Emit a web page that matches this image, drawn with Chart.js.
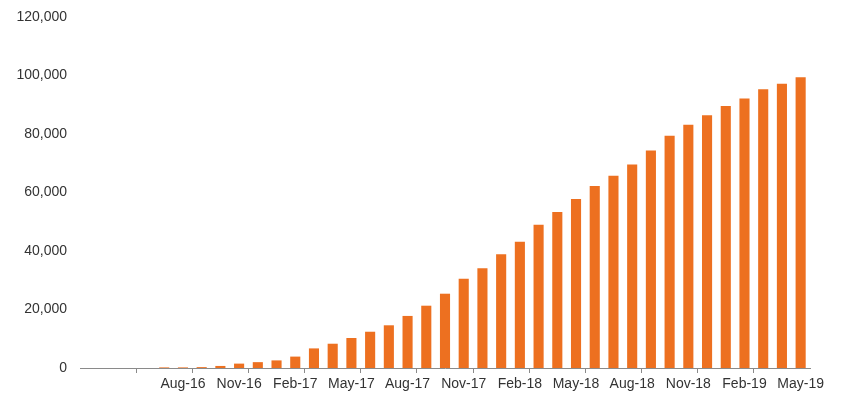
<!DOCTYPE html>
<html>
<head>
<meta charset="utf-8">
<script src="https://cdn.jsdelivr.net/npm/chart.js@4/dist/chart.umd.min.js"></script>
<style>
  html, body { margin: 0; padding: 0; background: #fff; }
  #wrap { width: 841px; height: 393px; }
</style>
</head>
<body>
<div id="wrap"><canvas id="bars"></canvas></div>
<script>
// monthly cumulative totals, Mar-16 to May-19
const months = [
  "Mar-16", "Apr-16", "May-16", "Jun-16", "Jul-16", "Aug-16", "Sep-16", "Oct-16", "Nov-16",
  "Dec-16", "Jan-17", "Feb-17", "Mar-17", "Apr-17", "May-17", "Jun-17", "Jul-17", "Aug-17",
  "Sep-17", "Oct-17", "Nov-17", "Dec-17", "Jan-18", "Feb-18", "Mar-18", "Apr-18", "May-18",
  "Jun-18", "Jul-18", "Aug-18", "Sep-18", "Oct-18", "Nov-18", "Dec-18", "Jan-19", "Feb-19",
  "Mar-19", "Apr-19", "May-19"
];
const totals = [
  0, 0, 0, 0, 200, 200, 300, 700, 1500,
  2000, 2600, 3900, 6700, 8300, 10250, 12400, 14600, 17800,
  21300, 25400, 30500, 34100, 38900, 43200, 49000, 53300, 57800,
  62200, 65700, 69600, 74400, 79400, 83200, 86400, 89600, 92100,
  95300, 97200, 99400
];
const yTicks = [0, 20000, 40000, 60000, 80000, 100000, 120000];

const axisGrey = "#8a8a8a";
const textGrey = "#333333";

new Chart(document.getElementById("bars"), {
  type: "bar",
  data: {
    labels: months,
    datasets: [{
      data: totals,
      backgroundColor: "#ED7020",
      categoryPercentage: 1,
      barPercentage: 0.54
    }]
  },
  options: {
    responsive: true,
    maintainAspectRatio: false,
    animation: false,
    layout: { padding: { top: 17, right: 31, left: 0, bottom: 0 } },
    plugins: { legend: { display: false }, tooltip: { enabled: false } },
    font: { family: "'Liberation Sans', Arial, sans-serif" },
    scales: {
      x: {
        grid: {
          display: true,
          drawOnChartArea: false,
          drawTicks: true,
          tickLength: 5,
          color: (ctx) => (ctx.index > 0 && ctx.index % 3 === 0) ? axisGrey : "rgba(0,0,0,0)"
        },
        border: { display: true, color: axisGrey },
        ticks: {
          autoSkip: false,
          maxRotation: 0,
          minRotation: 0,
          padding: 3,
          color: textGrey,
          font: { family: "'Liberation Sans', Arial, sans-serif", size: 14 },
          callback: function (value, index) {
            return (index >= 5 && (index - 5) % 3 === 0) ? months[index] : "";
          }
        },
        afterFit: (scale) => { scale.height = 25; }
      },
      y: {
        min: 0,
        max: 120000,
        grid: { display: false, drawTicks: false },
        border: { display: false },
        afterBuildTicks: (scale) => { scale.ticks = yTicks.map((v) => ({ value: v })); },
        ticks: {
          padding: 13,
          color: textGrey,
          font: { family: "'Liberation Sans', Arial, sans-serif", size: 14 },
          callback: (v) => v.toLocaleString("en-US")
        },
        afterFit: (scale) => {
          scale.width = 80;
          // let the layout padding alone decide where the plot starts
          scale.paddingTop = 0;
          scale.paddingBottom = 0;
        }
      }
    }
  }
});
</script>
</body>
</html>
